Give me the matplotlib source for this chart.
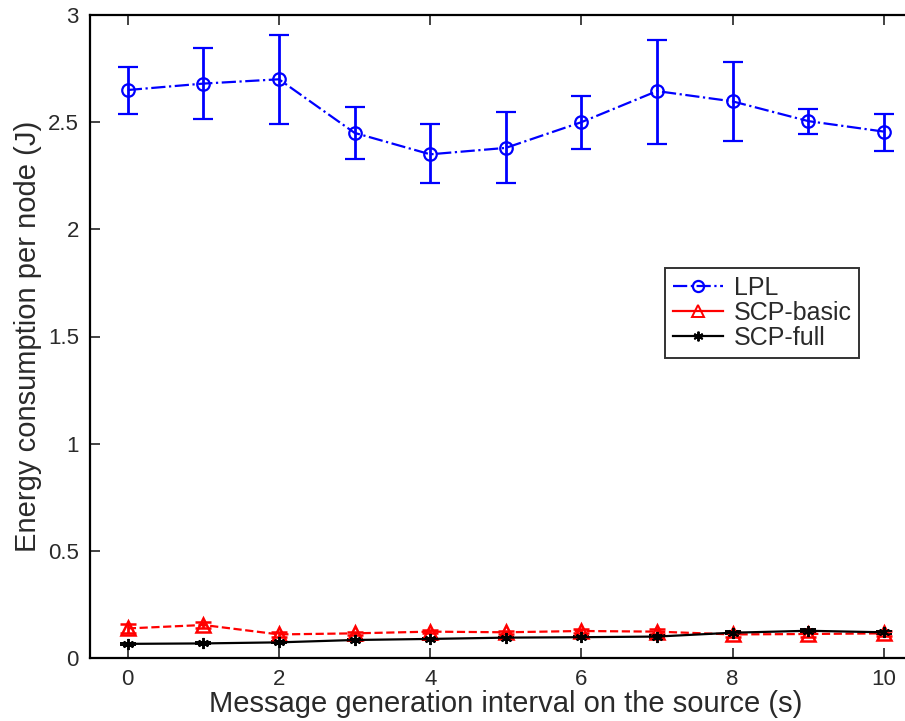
import matplotlib
matplotlib.use("Agg")
import matplotlib.pyplot as plt
from matplotlib.lines import Line2D

plt.rcParams['font.family'] = ['Liberation Sans', 'DejaVu Sans']

x = [0, 1, 2, 3, 4, 5, 6, 7, 8, 9, 10]
lpl = [2.65, 2.68, 2.70, 2.45, 2.35, 2.38, 2.50, 2.645, 2.597, 2.505, 2.456]
lpl_lo = [0.112, 0.165, 0.21, 0.12, 0.132, 0.163, 0.123, 0.245, 0.185, 0.059, 0.09]
lpl_hi = [0.107, 0.168, 0.207, 0.121, 0.143, 0.166, 0.12, 0.238, 0.184, 0.058, 0.082]
basic = [0.138, 0.154, 0.110, 0.115, 0.123, 0.120, 0.126, 0.123, 0.110, 0.112, 0.115]
basic_err = [0.02, 0.012, 0.01, 0.008, 0.008, 0.008, 0.008, 0.01, 0.01, 0.012, 0.012]
full = [0.066, 0.068, 0.073, 0.084, 0.089, 0.095, 0.097, 0.100, 0.118, 0.127, 0.120]
full_err = [0.006, 0.005, 0.005, 0.005, 0.005, 0.005, 0.006, 0.006, 0.006, 0.008, 0.006]
xticks = [0, 2, 4, 6, 8, 10]
yticks = [0, 0.5, 1, 1.5, 2, 2.5, 3]
ytick_labels = ['0', '0.5', '1', '1.5', '2', '2.5', '3']
series_names = ['LPL', 'SCP-basic', 'SCP-full']

txt = '#2a2a2a'
fig = plt.figure(figsize=(9.05, 7.21), dpi=100)
ax = fig.add_axes([90 / 905, 1 - 658 / 721, 831.6 / 905, 643 / 721])

ax.errorbar(x, lpl, yerr=[lpl_lo, lpl_hi], color='#0000ff', linestyle='-.', marker='o',
            markersize=9, markerfacecolor='none', markeredgewidth=1.6, linewidth=1.6,
            elinewidth=2, capsize=7, capthick=2)
ax.errorbar(x, basic, yerr=basic_err, color='#ff0000', linestyle='--', marker='^',
            markersize=10, markerfacecolor='none', markeredgewidth=1.8, linewidth=1.6,
            elinewidth=2, capsize=6, capthick=2)
ax.errorbar(x, full, yerr=full_err, color='black', linestyle='-', marker=(6, 2, 0),
            markersize=8, markeredgewidth=1.4, linewidth=1.6,
            elinewidth=2, capsize=6, capthick=2)

ax.set_xlim(-0.5, 10.5)
ax.set_ylim(0, 3)
ax.set_xticks(xticks)
ax.set_xticklabels([str(v) for v in xticks])
ax.set_yticks(yticks)
ax.set_yticklabels(ytick_labels)
ax.tick_params(direction='in', length=7, width=1.2, labelsize=16, labelcolor=txt,
               color='#222222', top=True, right=False, pad=8)
ax.spines['right'].set_visible(False)
for s in ['left', 'top', 'bottom']:
    ax.spines[s].set_linewidth(1.6)
ax.set_xlabel('Message generation interval on the source (s)', fontsize=21, color=txt, labelpad=0)
ax.set_ylabel('Energy consumption per node (J)', fontsize=21, color=txt, labelpad=4)

handles = [
    Line2D([], [], color='#0000ff', linestyle='-.', marker='o', markersize=8,
           markerfacecolor='none', markeredgewidth=1.6, linewidth=1.6),
    Line2D([], [], color='#ff0000', linestyle='-', marker='^', markersize=8,
           markerfacecolor='none', markeredgewidth=1.4, linewidth=1.6),
    Line2D([], [], color='black', linestyle='-', marker=(6, 2, 0), markersize=7,
           markeredgewidth=1.4, linewidth=1.6),
]
leg = ax.legend(handles, series_names, loc='upper left',
                bbox_to_anchor=((665 - 90) / 831.6, (658 - 268) / 643),
                borderaxespad=0, fontsize=18, frameon=True, fancybox=False,
                edgecolor='black', handlelength=2.0, borderpad=0.3,
                labelspacing=0.05, handletextpad=0.45)
leg.get_frame().set_linewidth(1.4)
for t in leg.get_texts():
    t.set_color(txt)

fig.savefig('out.png', dpi=100)
